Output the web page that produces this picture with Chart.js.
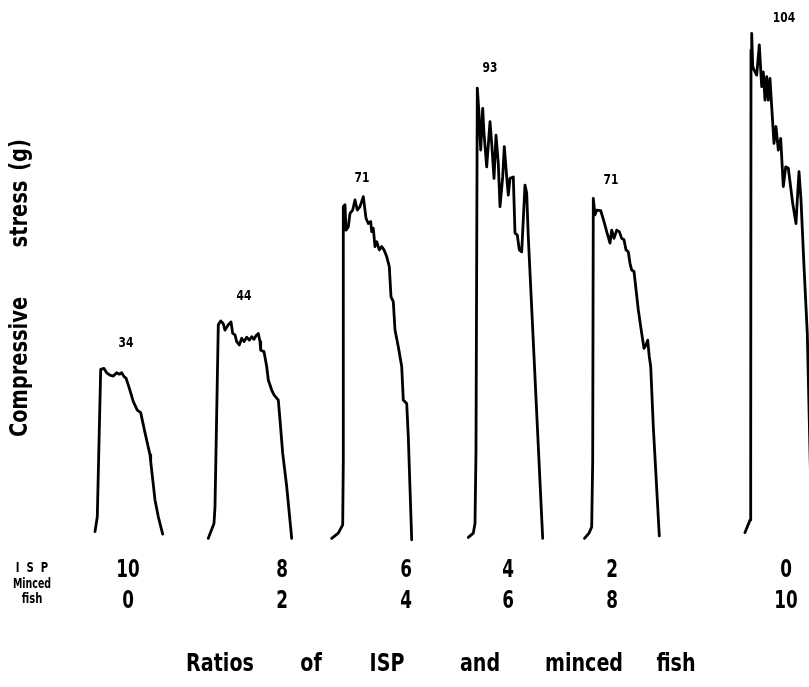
<!DOCTYPE html>
<html>
<head>
<meta charset="utf-8">
<script src="https://cdn.jsdelivr.net/npm/chart.js@4"></script>
<style>
  html, body { margin: 0; padding: 0; background: #fff; }
  canvas { display: block; }
</style>
</head>
<body>
<canvas id="stressChart" width="809" height="687"></canvas>
<script>
// ratios of ISP : minced fish, one trace per ratio
const ispParts = ["10", "8", "6", "4", "2", "0"];
const fishParts = ["0", "2", "4", "6", "8", "10"];
const peakStress = [34, 44, 71, 93, 71, 104];

// traces: [time (arbitrary units), compressive stress (g)]
const trace10 = [
  [95, 0.7], [97.3, 3.8], [100.7, 34.5], [104, 34.7], [106.7, 33.8], [110, 33.3],
  [113.3, 33.1], [116.7, 33.8], [119.3, 33.5], [121.7, 33.8], [124, 33.0], [126, 32.7],
  [129.3, 30.6], [133.3, 27.8], [137.3, 26.0], [140.7, 25.5], [145, 21.3], [150, 16.7],
  [150.7, 15.3], [155, 7.3], [158.3, 3.8], [162.7, 0.2]
];
const trace8 = [
  [208.3, -0.7], [214, 2.4], [215, 5.9], [217.3, 32.3], [218.3, 43.8], [220.7, 44.6],
  [223.3, 44.0], [225, 42.7], [228.3, 43.8], [231, 44.4], [232.7, 42.0], [235, 41.7],
  [236.7, 40.3], [239.3, 39.6], [241.7, 41.0], [244, 40.3], [246.7, 41.2], [249.3, 40.6],
  [251.7, 41.3], [254, 40.8], [256, 41.5], [258.3, 42.0], [260, 40.3], [260.7, 38.5],
  [264, 38.2], [266.7, 35.1], [268.3, 32.3], [271.7, 30.2], [274, 29.2], [278.3, 28.1],
  [280, 24.0], [282.7, 17.0], [286.7, 10.1], [291.7, -0.7]
];
const trace6 = [
  [331.7, -0.7], [338.3, 0.4], [342.7, 2.1], [343.3, 15.6], [343.3, 68.4], [345, 68.8],
  [346, 63.5], [348.3, 64.2], [350, 67.0], [352.7, 67.7], [355, 69.8], [357.3, 67.7],
  [360, 68.4], [363.3, 70.5], [366, 66.0], [368.3, 64.9], [370.7, 65.3], [371.7, 63.2],
  [373.3, 63.9], [375, 60.1], [376.7, 61.1], [379.3, 59.4], [381.7, 60.1], [384, 59.4],
  [386.7, 58.0], [389.3, 55.9], [391, 49.6], [393.3, 48.6], [395, 42.7], [398.3, 39.2],
  [401.7, 35.1], [403.3, 28.1], [406.7, 27.4], [408.3, 20.5], [411.7, -1.0]
];
const trace4 = [
  [468.3, -0.5], [473.3, 0.4], [475, 2.4], [476, 17.7], [477.3, 93.1], [479, 87.9],
  [480.7, 80.2], [482.7, 88.9], [484, 83.7], [486.7, 76.7], [490, 86.1], [491.7, 81.6],
  [494, 74.3], [496, 83.3], [498.3, 77.4], [500, 68.4], [502.7, 74.6], [504.3, 80.9],
  [506.7, 74.6], [508.3, 70.8], [510, 74.3], [513.3, 74.6], [515, 62.9], [517.3, 62.5],
  [519.3, 59.4], [521.7, 59.0], [525, 72.9], [526.7, 71.2], [528.3, 62.1], [542.7, -0.7]
];
const trace2 = [
  [584.5, -0.7], [589, 0.4], [591.7, 1.7], [592.7, 15.6], [593.3, 70.1], [595, 66.7],
  [596.7, 67.7], [600.7, 67.6], [604, 65.3], [606.7, 63.2], [610, 60.8], [611.7, 63.5],
  [614, 61.8], [616.7, 63.5], [619.3, 63.2], [621.7, 61.8], [624, 61.5], [626, 59.4],
  [628.3, 59.0], [630, 56.6], [631.7, 55.2], [634, 54.9], [638.3, 46.9], [641.7, 42.0],
  [644, 38.9], [646, 39.6], [647.7, 40.6], [649.3, 37.1], [650.7, 35.1], [653.3, 22.6],
  [659.3, -0.2]
];
const trace0 = [
  [745, 0.5], [750, 3.1], [750.7, 13.5], [751, 101.0], [751.7, 104.5], [752.7, 97.6],
  [754, 96.9], [756.7, 95.8], [759.3, 102.1], [761.7, 93.4], [763.3, 96.5], [765, 90.6],
  [766.7, 95.5], [768.3, 90.6], [770, 95.1], [771.7, 89.2], [774, 81.6], [776, 85.1],
  [778.3, 80.2], [780.7, 82.6], [783.3, 72.6], [785.7, 76.7], [788.3, 76.4], [792.7, 69.1],
  [796, 64.9], [797.3, 69.8], [799, 75.7], [801, 69.8], [804, 55.9], [807.3, 42.0],
  [812, -1.0]
];
const traces = [trace10, trace8, trace6, trace4, trace2, trace0];

// text layout (pixel positions of the printed labels)
const FONT = '"DejaVu Sans Condensed", "Liberation Sans", sans-serif';
const peakLabelX = [126, 244, 362, 490, 611, 784];
const peakLabelY = [343, 296, 178, 68, 180, 18];
const ratioX = [128, 282, 406, 508, 612, 786];
const xTitleWords = [["Ratios", 220], ["of", 311], ["ISP", 387], ["and", 480], ["minced", 584], ["fish", 676]];
const yTitleWords = [["Compressive", 367], ["stress", 214], ["(g)", 155]];

// draw condensed text (the original uses a narrow typeface)
function narrowText(ctx, text, x, y, squeeze) {
  ctx.save();
  ctx.translate(x, y);
  ctx.scale(squeeze, 1);
  ctx.fillText(text, 0, 0);
  ctx.restore();
}

const figureText = {
  id: "figureText",
  afterDatasetsDraw(chart) {
    const ctx = chart.ctx;
    const xs = chart.scales.x;
    ctx.save();
    ctx.fillStyle = "#000";
    ctx.textAlign = "center";
    ctx.textBaseline = "middle";

    // peak values above each trace
    ctx.font = "bold 14px " + FONT;
    peakStress.forEach((v, i) => {
      narrowText(ctx, String(v), xs.getPixelForValue(peakLabelX[i]), peakLabelY[i], 0.85);
    });

    // row captions
    ctx.font = "bold 14px " + FONT;
    narrowText(ctx, "I  S  P", 32, 568, 0.8);
    narrowText(ctx, "Minced", 32, 584, 0.75);
    narrowText(ctx, "fish", 32, 599, 0.8);

    // ratio numbers
    ctx.font = "bold 24px " + FONT;
    ispParts.forEach((p, i) => narrowText(ctx, p, xs.getPixelForValue(ratioX[i]), 571, 0.78));
    fishParts.forEach((p, i) => narrowText(ctx, p, xs.getPixelForValue(ratioX[i]), 602, 0.78));

    // x title
    ctx.font = "bold 25px " + FONT;
    xTitleWords.forEach(([w, x]) => narrowText(ctx, w, x, 664, 0.85));

    // y title, rotated
    ctx.font = "bold 24px " + FONT;
    ctx.translate(21, 0);
    ctx.rotate(-Math.PI / 2);
    yTitleWords.forEach(([w, y]) => narrowText(ctx, w, -y, 0, 0.9));
    ctx.restore();
  }
};

const ctx = document.getElementById("stressChart").getContext("2d");
new Chart(ctx, {
  type: "line",
  data: {
    datasets: traces.map((tr, i) => ({
      label: ispParts[i] + ":" + fishParts[i],
      data: tr.map(([t, g]) => ({ x: t, y: g })),
      borderColor: "#000",
      borderWidth: 2.8,
      borderJoinStyle: "round",
      borderCapStyle: "round",
      pointRadius: 0,
      tension: 0,
      fill: false,
      clip: false,
    })),
  },
  options: {
    responsive: false,
    animation: false,
    layout: { padding: { left: 0, right: 0, top: 0, bottom: 152 } },
    plugins: {
      legend: { display: false },
      tooltip: { enabled: false },
    },
    scales: {
      x: { type: "linear", min: 0, max: 809, display: false },
      y: { type: "linear", min: 0, max: 535 / 4.8, display: false },
    },
  },
  plugins: [figureText],
});
</script>
</body>
</html>
